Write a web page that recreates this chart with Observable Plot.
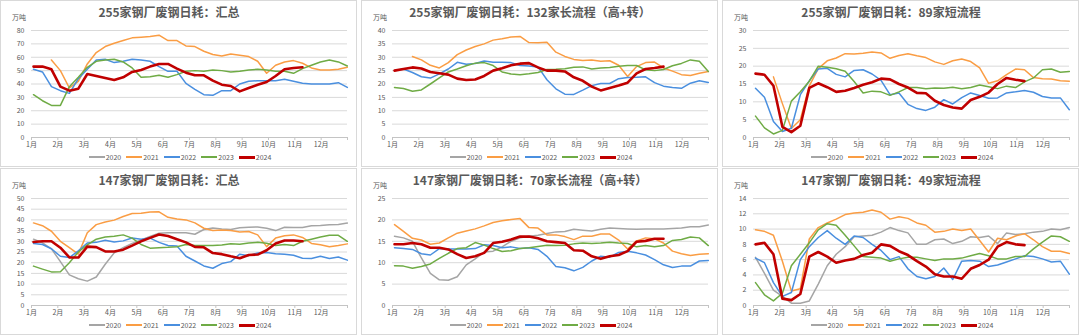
<!DOCTYPE html>
<html><head><meta charset="utf-8">
<script src="https://cdn.jsdelivr.net/npm/d3@7"></script>
<script src="https://cdn.jsdelivr.net/npm/@observablehq/plot@0.6"></script>
<style>
body{margin:0;background:#fff;}
#wrap{position:relative;width:1080px;height:336px;overflow:hidden;font-family:"Noto Sans CJK SC","Noto Sans",sans-serif;color:#595959;}
.panel{position:absolute;width:357px;height:167px;outline:1px solid #d9d9d9;outline-offset:-1px;background:#fff;}
.panel svg{position:absolute;left:0;top:0;}
.title{position:absolute;left:0;width:338px;top:3px;text-align:center;font-weight:bold;font-size:12px;line-height:18px;color:#595959;white-space:nowrap;}
.unit{position:absolute;left:12px;top:12px;font-size:7px;line-height:10px;color:#595959;}
.legend{position:absolute;left:0;width:360px;top:152px;display:flex;justify-content:center;font-size:7px;line-height:10px;color:#595959;}
.legend .it{display:flex;align-items:center;margin:0 2.5px;}
.legend .sw{display:inline-block;width:16px;margin-right:1px;}
</style></head>
<body><div id="wrap"></div>
<script>
// ---- data ----
const titles = ["255家钢厂废钢日耗：汇总","255家钢厂废钢日耗：132家长流程（高+转）","255家钢厂废钢日耗：89家短流程",
                "147家钢厂废钢日耗：汇总","147家钢厂废钢日耗：70家长流程（高+转）","147家钢厂废钢日耗：49家短流程"];
const unitLabel = "万吨";
const years = [2020, 2021, 2022, 2023, 2024];
const yearColors = ["#a5a5a5", "#fa9d44", "#4a8fdf", "#6fab45", "#c00000"];
const monthLabels = ["1月","2月","3月","4月","5月","6月","7月","8月","9月","10月","11月","12月"];
// weekly-ish sample positions, in months from 1月1日
const weekX = Array.from({length: 36}, (_, i) => 0.076 + 0.3405 * i);

const yTicks1 = [0,10,20,30,40,50,60,70,80];
const yTicks2 = [0,5,10,15,20,25,30,35,40];
const yTicks3 = [0,5,10,15,20,25,30];
const yTicks4 = [0,5,10,15,20,25,30,35,40,45,50];
const yTicks5 = [0,5,10,15,20,25];
const yTicks6 = [0,2,4,6,8,10,12,14];

const p1_2021 = [null,null,58,50,37,42,55,63.5,68,70.5,72.5,74.5,75,75.5,76.5,72.5,72.5,68.5,68,64.5,62,61,62.5,61.5,60.5,57,48,54,56.5,57.5,55.5,52,50.5,50.5,51,52.5];
const p1_2022 = [51,49,38,35,33,44,51,58,58.5,56,57,58.5,58,57,53,49.5,49.5,40.5,36,32,31.5,35,35,40,42,42.5,42.5,42.5,43.5,42,40.5,40,40,40,41,37.5];
const p1_2023 = [32,27.5,24,24,38,45,52.5,57,58,58.5,56.5,52,45,45.5,46.5,45,47,49.5,50,49.5,50.5,50,49,49.5,50.5,51,50.5,49.5,49.5,48,51.5,54,56.5,58,56.5,53.5];
const p1_2024 = [53,53,51,38,35,36.5,47.5,46,44.5,43,45,49,50.5,53,55,55,51.5,48.5,46.5,46.5,42.5,39.5,38.5,34.5,37,39.5,41.5,46,51,52,52.5];

const p2_2021 = [null,null,30.3,29,27,26,28,31,32.7,34,35,36.4,36.9,37.6,37.8,35.5,35.4,35.6,31.9,30.3,29.2,28.8,29,28.5,28.7,27,22.8,26.5,28,28.2,26,24.8,23.5,23.2,24,24.7];
const p2_2022 = [25,25.6,24.3,22.7,22.2,23.8,25.6,28.1,27.4,27.7,28.6,28.1,28.1,28,26.9,26.7,26.4,21.6,18.2,16.2,16.1,17.7,19.4,20.2,20.2,22,22.4,22.5,22.7,20.5,19.2,18.7,18.4,20.3,21.2,20.6];
const p2_2023 = [18.7,18.3,17.3,17.8,20,22.3,24.5,25.6,26.8,27.8,28,26.9,24.5,23.7,23.5,23.8,24.3,25.4,25.5,25.7,26.3,26.4,25.6,26,26.2,26.6,26.9,26.9,25.3,25,25.4,26.8,27.7,29,28.5,24.7];
const p2_2024 = [25,25.6,26.2,25.8,24.5,24,23.5,22,21.5,21.7,23,25,25.9,27,27.6,27.8,26.2,25,25,24.7,22.5,21.2,19,17.6,18.5,19.4,20.5,24,25.6,26,26.5];

const p3_2021 = [null,null,17,9.5,2.5,5,14.5,19.3,21.5,22.3,23.5,23.4,23.6,24,23.7,22.2,23,23.5,22.9,22.4,21.2,20.5,21.5,22,21.3,19.5,15.2,15.9,17.6,19.2,19,16.8,16.5,16.4,15.9,15.8];
const p3_2022 = [13.8,11.3,4.5,1.7,2.6,12,15.9,19.2,19.4,17.7,17,18.8,19,17.8,16,12,12.5,9.3,8.1,7.6,8.5,10.6,9.4,11.2,12.5,11.8,11,11.1,12.5,12.8,13.2,12.7,11.5,11.1,11.1,7.8];
const p3_2023 = [6,2.7,1,2,10.2,12.8,15.8,20,19.7,19.3,18.6,15.7,12.5,13,12.8,11.8,12.8,14,14,13.7,13.9,13.8,14.1,13.7,14,14.7,14.2,13.7,14.4,14,15.6,16.7,19,19.2,18.3,18.5];
const p3_2024 = [17.9,17.6,14.5,3,1.5,3.3,13.9,15.2,14.1,12.8,13.1,13.9,14.8,15.5,16.5,16.3,15,14,12.5,12.4,10.3,9.1,8.4,8.1,10.5,11.4,12.6,15,16.7,16.2,15.8];

const p4_2020 = [31,29.3,26.5,20.5,14.3,12.5,11.4,13.3,19.3,24.6,27,29,30.6,32.3,33.8,34,34,34,33.3,35.5,36.2,35.8,35.5,36.3,36.6,36.7,36.1,35,36.6,36.5,36.5,37.3,37.4,37.7,37.8,38.5];
const p4_2021 = [38.6,37.3,34.7,30,27,24,34,37.8,39,39.9,41.6,43,43.1,43.7,43.8,41.2,40.4,40,38.6,36.1,35,35.3,35,34.4,34.6,33,27.5,31.5,32.6,33,31.8,29,28.4,27.5,28,28.8];
const p4_2022 = [29,28.5,26.5,23,22.4,25.5,29.2,29.5,30.5,29.7,30.2,31.5,31,31.5,29.5,28,27.8,23,20.8,18.5,17.4,19.6,20.5,24,23.3,24.5,24.8,24.2,24,23.5,22.1,22,23,22,22.7,21.2];
const p4_2023 = [18.4,17,15.7,15.8,20,25,28.3,31,32,32.4,33,31.5,28.5,26.8,27,27.2,27.5,28.5,28,28,28,28.3,28.8,28.6,29.2,29.5,29.1,28,28.5,28,30,31,32,32.8,32.8,30];
const p4_2024 = [29.7,30,30,27,22.5,22.4,27.5,27.3,25.3,25.2,26.1,28,30,31.6,33.2,32.5,31,29.5,27.4,27.2,24.5,24,23,22.1,23.6,23.8,25.8,29,30.4,30.4,30];

const p5_2020 = [16.2,15.8,15,11.1,7.5,6,5.9,6.7,9.5,10.9,12.5,12.7,13.7,15,15.8,16.2,16.4,16.8,17.2,17.3,17.8,17.6,17.4,17.8,18.1,18,17.9,17.8,17.9,17.9,17.9,18,18.1,18.4,18.4,18.8];
const p5_2021 = [18.9,17.3,15.7,15.3,14.3,14.6,15.8,16.9,17.4,17.9,18.6,19.4,19.8,20.1,20.3,18.2,18.1,16.5,16.5,16.1,15.4,16.2,16.2,16.7,16.7,15.3,13.2,15.1,15.8,15.6,14.6,12.7,12.1,11.7,12,12.1];
const p5_2022 = [13.5,13.3,13.1,12.1,11.8,13.3,13.2,13.2,13.2,13.3,14.2,14,13.5,13.7,13.3,13.5,13.1,11.5,9.1,8.8,8.1,8.9,10.4,11.5,11.3,12.4,12.7,12.3,11.8,10.7,9.5,8.9,9.2,9.2,10.4,10.5];
const p5_2023 = [9.3,9.2,8.7,9.1,9.7,11,12.2,13.3,13.5,14.7,14.1,13.3,12.6,12.8,13.3,13.5,13.8,14.1,14,14.1,14.4,14.6,14.5,14.6,14.8,14.6,14.5,13.7,14,13.7,14,15.2,15.4,16,15.8,14];
const p5_2024 = [14.3,14.3,14.6,14.3,13.5,13.5,13.1,12,11.1,11.5,12.3,14.6,14.9,15.4,16.1,16.1,15.7,15,14.8,14.6,12.9,12.8,11.5,10.9,11.5,11.8,12.7,14.9,15.1,15.6,15.6];

const p6_2020 = [6.3,4.2,2,1.2,0.3,0.3,0.6,2.8,5.2,6.7,7.7,9,9.1,9.2,9.6,10.2,9.8,9.5,8,8,8.6,8.7,8.1,8.4,9,8.9,9.1,8.1,9.5,9.3,9.4,9.6,9.7,10,9.9,10.2];
const p6_2021 = [9.9,9.7,9.2,5.8,1.9,2.2,8.7,10.2,10.8,11.3,11.9,12.1,12.2,12.5,12.2,11.3,11.6,11.4,10.8,10.5,9.6,9.7,10,9.8,10,8.5,7,8.8,8.6,9.1,9.4,8.6,7.7,7.1,7.1,6.8];
const p6_2022 = [6.2,5.6,3,1.2,1.7,6,7.7,8.9,9.8,8.8,8,9.1,8.9,8,7.2,6,6.4,4.8,3.8,3.5,3.8,4.9,3.4,5.8,5.9,5.8,5.1,5.3,5.7,6.1,6.5,6.4,6.1,5.7,5.8,4.1];
const p6_2023 = [3,1.4,0.6,1.6,5.2,6.7,8.2,9.9,10.7,10.5,9.2,7.8,6.4,6.3,6.2,5.8,6.1,6.3,6.3,6.1,5.9,6.1,6.1,6.2,6.5,6.8,6.5,6.1,6.1,6.4,6.4,7.4,8.3,9.1,9,8.4];
const p6_2024 = [8,8.2,6.7,0.9,0.7,1.5,6.4,7,6.4,5.6,5.9,6.1,6.6,6.9,8,7.8,7.1,6.6,5.8,5.1,4.1,3.8,3.8,3.5,4.8,5.3,6,7.7,8.3,8,7.9];

const panels = [
  {title: titles[0], yTicks: yTicks1, series: [[2021,p1_2021],[2022,p1_2022],[2023,p1_2023],[2024,p1_2024]]},
  {title: titles[1], yTicks: yTicks2, series: [[2021,p2_2021],[2022,p2_2022],[2023,p2_2023],[2024,p2_2024]]},
  {title: titles[2], yTicks: yTicks3, series: [[2021,p3_2021],[2022,p3_2022],[2023,p3_2023],[2024,p3_2024]]},
  {title: titles[3], yTicks: yTicks4, series: [[2020,p4_2020],[2021,p4_2021],[2022,p4_2022],[2023,p4_2023],[2024,p4_2024]]},
  {title: titles[4], yTicks: yTicks5, series: [[2020,p5_2020],[2021,p5_2021],[2022,p5_2022],[2023,p5_2023],[2024,p5_2024]]},
  {title: titles[5], yTicks: yTicks6, series: [[2020,p6_2020],[2021,p6_2021],[2022,p6_2022],[2023,p6_2023],[2024,p6_2024]]}
];

// ---- render ----
const wrap = document.getElementById("wrap");
const colorOf = y => yearColors[years.indexOf(y)];
const widthOf = y => y === 2024 ? 2.6 : 1.5;
const xTicks = d3.range(0, 13);

panels.forEach((p, k) => {
  const col = k % 3, row = Math.floor(k / 3);
  const div = document.createElement("div");
  div.className = "panel";
  div.style.left = [0, 361, 722][col] + "px";
  div.style.top = [0, 168][row] + "px";
  wrap.appendChild(div);

  const ymax = p.yTicks[p.yTicks.length - 1];
  const lineMarks = p.series.map(([yr, vals]) => {
    const rows = vals.map((v, i) => ({m: weekX[i], v})).filter(d => d.v != null);
    return Plot.line(rows, {x: "m", y: "v", stroke: colorOf(yr), strokeWidth: widthOf(yr),
      strokeLinejoin: "round", strokeLinecap: "round"});
  });

  const chart = Plot.plot({
    width: 357, height: 167,
    marginLeft: 31, marginRight: 10, marginTop: 30, marginBottom: 30,
    style: {fontFamily: '"Noto Sans CJK SC","Noto Sans",sans-serif', fontSize: "7px", color: "#595959", background: "transparent", overflow: "visible"},
    x: {domain: [0, 12]},
    y: {domain: [0, ymax]},
    marks: [
      Plot.gridY(p.yTicks.slice(1), {stroke: "#d9d9d9", strokeOpacity: 1}),
      Plot.ruleY([0], {stroke: "#c4c4c4"}),
      Plot.axisX(xTicks, {tickFormat: d => d < 12 ? monthLabels[d] : "", tickSize: 3, tickPadding: 2,
        stroke: "#c4c4c4", fill: "#595959", label: null, fontSize: 7}),
      Plot.axisY(p.yTicks, {tickSize: 0, tickPadding: 7, fill: "#595959", label: null, fontSize: 7}),
      ...lineMarks
    ]
  });
  div.appendChild(chart);

  const t = document.createElement("div");
  t.className = "title"; t.textContent = p.title; div.appendChild(t);
  const u = document.createElement("div");
  u.className = "unit"; u.textContent = unitLabel; div.appendChild(u);
  const lg = document.createElement("div");
  lg.className = "legend";
  years.forEach(y => {
    const it = document.createElement("span"); it.className = "it";
    const sw = document.createElement("span"); sw.className = "sw";
    sw.style.height = (y === 2024 ? 3 : 2) + "px"; sw.style.background = colorOf(y);
    const tx = document.createElement("span"); tx.textContent = String(y);
    it.appendChild(sw); it.appendChild(tx); lg.appendChild(it);
  });
  div.appendChild(lg);
});
</script>
</body></html>
